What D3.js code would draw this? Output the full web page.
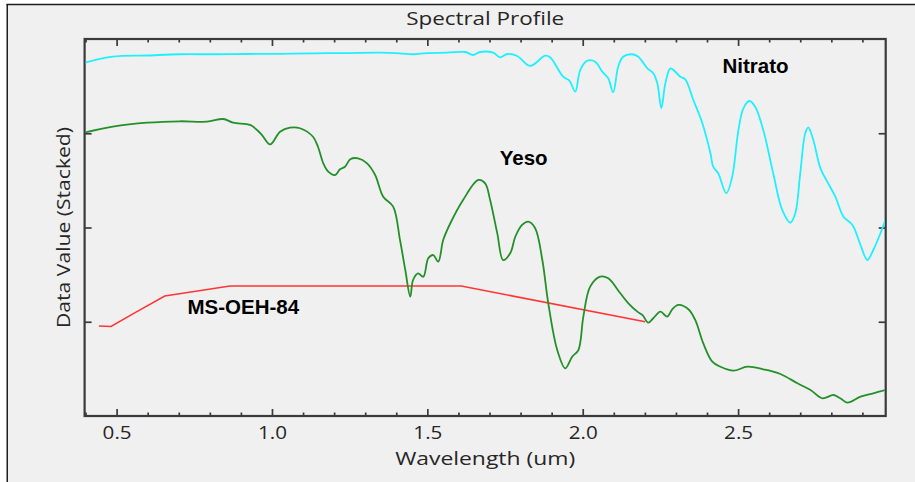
<!DOCTYPE html>
<html>
<head>
<meta charset="utf-8">
<script src="https://cdn.jsdelivr.net/npm/d3@7/dist/d3.min.js"></script>
<style>
  html, body { margin: 0; padding: 0; background: #ffffff; }
  svg { display: block; }
</style>
</head>
<body>
<svg id="chart" width="915" height="482"></svg>
<script>
// ---------------- DATA ----------------
const chartTitle = "Spectral Profile";
const xAxisTitle = "Wavelength (um)";
const yAxisTitle = "Data Value (Stacked)";

const xMajorTicks = [0.5, 1.0, 1.5, 2.0, 2.5];
const xMajorLabels = ["0.5", "1.0", "1.5", "2.0", "2.5"];
const xMinorTicks = [0.4, 0.6, 0.7, 0.8, 0.9, 1.1, 1.2, 1.3, 1.4, 1.6, 1.7, 1.8, 1.9, 2.1, 2.2, 2.3, 2.4, 2.6, 2.7, 2.8, 2.9];
const yTicks = [1, 2, 3];

const seriesNames = ["MS-OEH-84", "Yeso", "Nitrato"];

// MS-OEH-84 (multispectral bands)
const msWl  = [0.443, 0.482, 0.561, 0.655, 0.865, 1.609, 2.201];
const msVal = [0.955, 0.950, 1.100, 1.273, 1.379, 1.379, 1.000];

// Yeso
const yesoWl = [0.398, 0.488, 0.598, 0.704, 0.791, 0.843, 0.875, 0.930, 0.952, 0.968,
  0.994, 1.026, 1.058, 1.090, 1.132, 1.148, 1.165, 1.181, 1.203, 1.219,
  1.235, 1.252, 1.277, 1.306, 1.332, 1.358, 1.390, 1.412, 1.429, 1.445,
  1.454, 1.470, 1.487, 1.503, 1.519, 1.535, 1.551, 1.574, 1.615, 1.664,
  1.686, 1.702, 1.725, 1.744, 1.767, 1.783, 1.805, 1.825, 1.847, 1.870,
  1.889, 1.918, 1.944, 1.966, 1.986, 2.002, 2.024, 2.056, 2.082, 2.121,
  2.147, 2.176, 2.192, 2.211, 2.227, 2.250, 2.272, 2.288, 2.308, 2.340,
  2.362, 2.388, 2.417, 2.443, 2.485, 2.530, 2.581, 2.636, 2.691, 2.733,
  2.771, 2.807, 2.829, 2.852, 2.894, 2.935, 2.974];
const yesoVal = [3.008, 3.070, 3.112, 3.127, 3.123, 3.151, 3.112, 3.088, 3.034, 2.981,
  2.881, 3.016, 3.059, 3.053, 2.963, 2.857, 2.681, 2.592, 2.557, 2.618,
  2.645, 2.724, 2.734, 2.681, 2.557, 2.327, 2.221, 1.867, 1.549, 1.266,
  1.443, 1.514, 1.478, 1.673, 1.708, 1.637, 1.867, 2.045, 2.292, 2.504,
  2.469, 2.292, 1.938, 1.655, 1.729, 1.902, 2.027, 2.062, 1.992, 1.655,
  1.199, 0.700, 0.506, 0.629, 0.700, 1.054, 1.372, 1.478, 1.461, 1.302,
  1.196, 1.107, 1.072, 0.990, 1.037, 1.107, 1.054, 1.132, 1.178, 1.132,
  1.019, 0.771, 0.576, 0.523, 0.481, 0.523, 0.495, 0.446, 0.347, 0.276,
  0.188, 0.223, 0.188, 0.141, 0.205, 0.241, 0.276];

// Nitrato
const nitratoWl = [0.398, 0.488, 0.598, 0.704, 0.810, 0.920, 1.026, 1.132, 1.242, 1.348,
  1.412, 1.454, 1.499, 1.564, 1.622, 1.647, 1.670, 1.712, 1.734, 1.757,
  1.789, 1.831, 1.879, 1.895, 1.937, 1.957, 1.976, 1.992, 2.015, 2.040,
  2.063, 2.082, 2.098, 2.114, 2.130, 2.159, 2.179, 2.208, 2.227, 2.240,
  2.253, 2.266, 2.282, 2.298, 2.314, 2.330, 2.356, 2.385, 2.411, 2.420,
  2.436, 2.462, 2.481, 2.501, 2.517, 2.536, 2.555, 2.581, 2.613, 2.642,
  2.668, 2.684, 2.700, 2.716, 2.726, 2.742, 2.765, 2.787, 2.813, 2.839,
  2.868, 2.894, 2.916, 2.935, 2.958, 2.974];
const nitratoVal = [3.749, 3.812, 3.825, 3.838, 3.838, 3.841, 3.843, 3.848, 3.851, 3.855,
  3.848, 3.838, 3.851, 3.855, 3.862, 3.830, 3.862, 3.855, 3.806, 3.841,
  3.820, 3.714, 3.823, 3.806, 3.600, 3.558, 3.441, 3.671, 3.770, 3.759,
  3.653, 3.583, 3.434, 3.706, 3.812, 3.838, 3.812, 3.689, 3.636, 3.530,
  3.265, 3.530, 3.689, 3.653, 3.600, 3.572, 3.353, 3.106, 2.787, 2.645,
  2.575, 2.363, 2.539, 3.034, 3.265, 3.342, 3.282, 3.034, 2.575, 2.186,
  2.051, 2.151, 2.575, 2.999, 3.063, 2.928, 2.628, 2.486, 2.327, 2.115,
  2.027, 1.814, 1.655, 1.761, 1.938, 2.080];

// ---------------- DRAW ----------------
const svg = d3.select("#chart");
const W = 915, H = 482;
const plot = { left: 84.6, right: 885.7, top: 39, bottom: 416 };

// background and frame
svg.append("rect").attr("x", 7).attr("y", 4).attr("width", W - 7).attr("height", H - 4).attr("fill", "#f0f0f0");
svg.append("line").attr("x1", 6.5).attr("x2", W).attr("y1", 4.5).attr("y2", 4.5).attr("stroke", "#1e1e1e").attr("stroke-width", 1.5);
svg.append("line").attr("x1", 7.25).attr("x2", 7.25).attr("y1", 4).attr("y2", H).attr("stroke", "#1e1e1e").attr("stroke-width", 1.5);

const x = d3.scaleLinear().domain([0.397, 2.975]).range([plot.left, plot.right]);
const y = d3.scaleLinear().domain([0, 4]).range([plot.bottom, plot.top]);

const textColor = "#262626";
const axisColor = "#3a3a3a";

// x axes (bottom with labels, top without)
const gBottom = svg.append("g").attr("transform", `translate(0,${plot.bottom})`)
  .call(d3.axisBottom(x).tickValues(xMajorTicks).tickFormat((d, i) => xMajorLabels[i])
    .tickSizeInner(-7).tickSizeOuter(0).tickPadding(10));
const gBottomMinor = svg.append("g").attr("transform", `translate(0,${plot.bottom})`)
  .call(d3.axisBottom(x).tickValues(xMinorTicks).tickFormat("").tickSizeInner(-3.5).tickSizeOuter(0));
const gTop = svg.append("g").attr("transform", `translate(0,${plot.top})`)
  .call(d3.axisTop(x).tickValues(xMajorTicks).tickFormat("").tickSizeInner(-7).tickSizeOuter(0));
const gTopMinor = svg.append("g").attr("transform", `translate(0,${plot.top})`)
  .call(d3.axisTop(x).tickValues(xMinorTicks).tickFormat("").tickSizeInner(-3.5).tickSizeOuter(0));
const gLeft = svg.append("g").attr("transform", `translate(${plot.left},0)`)
  .call(d3.axisLeft(y).tickValues(yTicks).tickFormat("").tickSizeInner(-7).tickSizeOuter(0));
const gRight = svg.append("g").attr("transform", `translate(${plot.right},0)`)
  .call(d3.axisRight(y).tickValues(yTicks).tickFormat("").tickSizeInner(-7).tickSizeOuter(0));

[gBottom, gBottomMinor, gTop, gTopMinor, gLeft, gRight].forEach(g => {
  g.select(".domain").remove();
  g.selectAll(".tick line").attr("stroke", axisColor).attr("stroke-width", 1.7);
});
gBottom.selectAll(".tick text")
  .attr("fill", textColor)
  .style("font-family", "'Open Sans', sans-serif")
  .style("font-size", "18px")
  .attr("textLength", 29)
  .attr("lengthAdjust", "spacingAndGlyphs");

// plot box
svg.append("rect")
  .attr("x", plot.left).attr("y", plot.top)
  .attr("width", plot.right - plot.left).attr("height", plot.bottom - plot.top)
  .attr("fill", "none").attr("stroke", axisColor).attr("stroke-width", 2.2);

// lines
svg.append("clipPath").attr("id", "clip").append("rect")
  .attr("x", plot.left + 1).attr("y", plot.top + 1)
  .attr("width", plot.right - plot.left - 2).attr("height", plot.bottom - plot.top - 2);

const smooth = d3.line().x(d => x(d[0])).y(d => y(d[1])).curve(d3.curveCatmullRom.alpha(0.5));
const straight = d3.line().x(d => x(d[0])).y(d => y(d[1]));

const gLines = svg.append("g").attr("clip-path", "url(#clip)");
gLines.append("path").datum(d3.zip(msWl, msVal)).attr("d", straight)
  .attr("fill", "none").attr("stroke", "#ff3535").attr("stroke-width", 1.6);
gLines.append("path").datum(d3.zip(yesoWl, yesoVal)).attr("d", smooth)
  .attr("fill", "none").attr("stroke", "#24902a").attr("stroke-width", 1.8).attr("stroke-linejoin", "round");
gLines.append("path").datum(d3.zip(nitratoWl, nitratoVal)).attr("d", smooth)
  .attr("fill", "none").attr("stroke", "#1ef0ff").attr("stroke-width", 1.8).attr("stroke-linejoin", "round");

// series labels
const labelFont = "'Liberation Sans', Arial, sans-serif";
const labels = [
  { name: seriesNames[0], wl: 0.728, v: 1.085 },
  { name: seriesNames[1], wl: 1.733, v: 2.663 },
  { name: seriesNames[2], wl: 2.450, v: 3.640 }
];
svg.append("g").selectAll("text").data(labels).join("text")
  .attr("x", d => x(d.wl)).attr("y", d => y(d.v))
  .text(d => d.name)
  .attr("fill", "#000")
  .style("font-family", labelFont)
  .style("font-weight", "bold")
  .style("font-size", "20.5px");

// titles
svg.append("text").attr("x", (plot.left + plot.right) / 2).attr("y", 25)
  .attr("text-anchor", "middle").text(chartTitle)
  .attr("fill", textColor).style("font-family", "'Open Sans', sans-serif").style("font-size", "17.5px")
  .attr("textLength", 158).attr("lengthAdjust", "spacingAndGlyphs");

svg.append("text").attr("x", (plot.left + plot.right) / 2).attr("y", 465)
  .attr("text-anchor", "middle").text(xAxisTitle)
  .attr("fill", textColor).style("font-family", "'Open Sans', sans-serif").style("font-size", "18.5px")
  .attr("textLength", 180).attr("lengthAdjust", "spacingAndGlyphs");

svg.append("text").attr("transform", `translate(70,${(plot.top + plot.bottom) / 2}) rotate(-90)`)
  .attr("text-anchor", "middle").text(yAxisTitle)
  .attr("fill", textColor).style("font-family", "'Open Sans', sans-serif").style("font-size", "18px")
  .attr("textLength", 201).attr("lengthAdjust", "spacingAndGlyphs");
</script>
</body>
</html>
